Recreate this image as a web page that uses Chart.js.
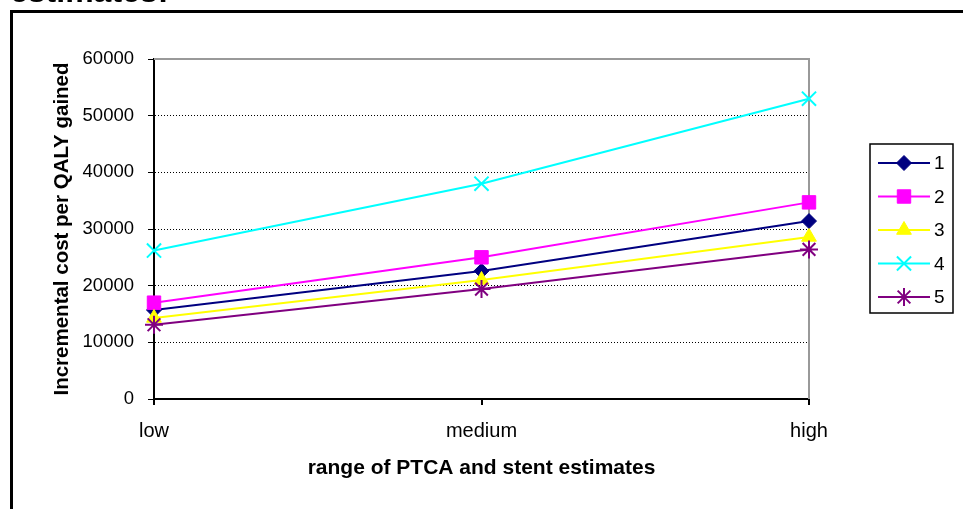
<!DOCTYPE html>
<html>
<head>
<meta charset="utf-8">
<script src="https://cdn.jsdelivr.net/npm/chart.js@4.4.0/dist/chart.umd.min.js"></script>
<style>
  html, body { margin: 0; padding: 0; background: #fff; overflow: hidden; }
  #wrap { position: relative; width: 963px; height: 509px; }
  #doc-title { position: absolute; left: 10px; top: -25px; font: bold 32px "Liberation Sans", Arial, sans-serif; line-height: 1; white-space: nowrap; }
  canvas { position: absolute; left: 0; top: 0; }
</style>
</head>
<body>
<div id="wrap">
  <canvas id="chart" width="963" height="509"></canvas>
  <div id="doc-title">estimates:</div>
</div>
<script>
// values
const categories = ["low", "medium", "high"];
const seriesNames = ["1", "2", "3", "4", "5"];
const series1 = [15700, 22600, 31400];
const series2 = [17000, 25000, 34700];
const series3 = [14300, 21000, 28600];
const series4 = [26200, 38000, 53000];
const series5 = [13100, 19400, 26400];
const yTicks = [0, 10000, 20000, 30000, 40000, 50000, 60000];

const FONT = '"Liberation Sans", Arial, sans-serif';

function makeSet(i, values, color, style, radius, bw) {
  return {
    label: seriesNames[i],
    data: values,
    borderColor: color,
    backgroundColor: color,
    borderWidth: 2,
    tension: 0,
    pointStyle: style,
    pointRadius: radius,
    pointHoverRadius: radius,
    pointBackgroundColor: color,
    pointBorderColor: color,
    pointBorderWidth: bw,
    order: 5 - i
  };
}

// white page, document frame, grey plot border
const frame = {
  id: 'frame',
  beforeDraw(chart) {
    const { ctx } = chart;
    ctx.save();
    ctx.fillStyle = '#fff';
    ctx.fillRect(0, 0, chart.width, chart.height);
    ctx.strokeStyle = '#000';
    ctx.lineWidth = 3;
    ctx.beginPath();
    ctx.moveTo(11.5, chart.height);
    ctx.lineTo(11.5, 11.5);
    ctx.lineTo(chart.width, 11.5);
    ctx.stroke();
    ctx.restore();
  },
  beforeDatasetsDraw(chart) {
    const { ctx, chartArea: a } = chart;
    ctx.save();
    ctx.strokeStyle = '#999';
    ctx.lineWidth = 2;
    ctx.beginPath();
    ctx.moveTo(a.left, a.top);
    ctx.lineTo(a.right, a.top);
    ctx.lineTo(a.right, a.bottom);
    ctx.stroke();
    ctx.restore();
  }
};

// boxed legend with line + marker samples
const legendBox = {
  id: 'legendBox',
  afterDraw(chart) {
    const { ctx, chartArea: a } = chart;
    const x0 = a.right + 61, y0 = 144, w = 83, h = 169;
    ctx.save();
    ctx.strokeStyle = '#000';
    ctx.lineWidth = 1.5;
    ctx.strokeRect(x0, y0, w, h);
    chart.data.datasets.forEach((ds, i) => {
      const y = y0 + 19 + i * 33.5;
      ctx.strokeStyle = ds.borderColor;
      ctx.lineWidth = ds.borderWidth;
      ctx.beginPath();
      ctx.moveTo(x0 + 8, y);
      ctx.lineTo(x0 + 60, y);
      ctx.stroke();
      ctx.fillStyle = ds.pointBackgroundColor;
      ctx.strokeStyle = ds.pointBorderColor;
      ctx.lineWidth = ds.pointBorderWidth;
      Chart.helpers.drawPoint(ctx, { pointStyle: ds.pointStyle, radius: ds.pointRadius, borderWidth: ds.pointBorderWidth, rotation: 0 }, x0 + 34, y);
      ctx.fillStyle = '#000';
      ctx.font = '19px ' + FONT;
      ctx.textBaseline = 'middle';
      ctx.textAlign = 'left';
      ctx.fillText(ds.label, x0 + 64, y + 1);
    });
    ctx.restore();
  }
};

new Chart(document.getElementById('chart').getContext('2d'), {
  type: 'line',
  data: {
    labels: categories,
    datasets: [
      makeSet(0, series1, '#000080', 'rectRot', 7.5, 1),
      makeSet(1, series2, '#FF00FF', 'rect', 9.5, 1),
      makeSet(2, series3, '#FFFF00', 'triangle', 8.5, 1),
      makeSet(3, series4, '#00FFFF', 'crossRot', 10, 2),
      makeSet(4, series5, '#800080', 'star', 9, 2)
    ]
  },
  options: {
    responsive: false,
    animation: false,
    layout: { padding: { left: 0, top: 59, right: 154, bottom: 0 } },
    plugins: { legend: { display: false }, tooltip: { enabled: false } },
    scales: {
      x: {
        afterFit: s => { s.height = 110; },
        grid: { drawOnChartArea: false, tickLength: 6, color: '#000', lineWidth: 2 },
        border: { color: '#000', width: 2 },
        ticks: { color: '#000', padding: 14, font: { family: FONT, size: 20 } },
        title: { display: true, text: 'range of PTCA and stent estimates', color: '#000', font: { family: FONT, size: 21, weight: 'bold' }, padding: { top: 0, bottom: 28 } }
      },
      y: {
        min: 0,
        max: 60000,
        afterFit: s => { s.width = 154; },
        afterBuildTicks: s => { s.ticks = yTicks.map(v => ({ value: v })); },
        grid: {
          color: c => (c.tick && (c.tick.value === 0 || c.tick.value === 60000)) ? 'rgba(0,0,0,0)' : '#000',
          tickColor: '#000',
          tickLength: 6,
          lineWidth: 1
        },
        border: { color: '#000', width: 2, dash: [1, 2] },
        ticks: { color: '#000', padding: 14, font: { family: FONT, size: 18.5 }, callback: v => String(v) },
        title: { display: true, text: 'Incremental cost per QALY gained', color: '#000', font: { family: FONT, size: 20.5, weight: 'bold' }, padding: { top: 50, bottom: 0 } }
      }
    }
  },
  plugins: [frame, legendBox]
});
</script>
</body>
</html>
